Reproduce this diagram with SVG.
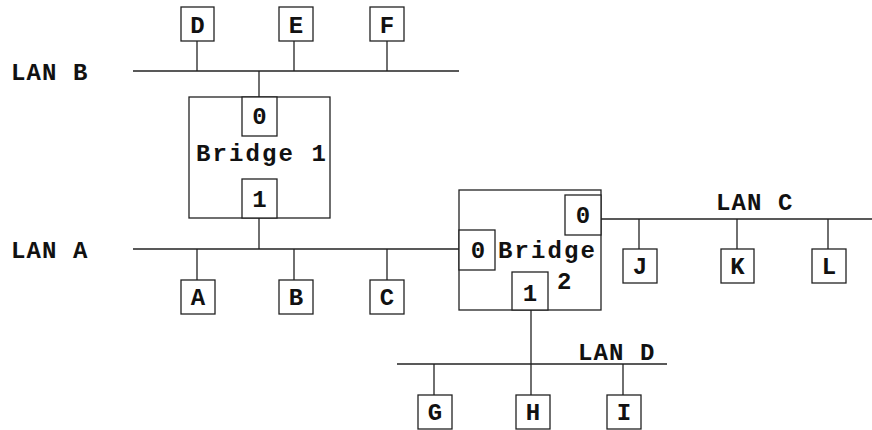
<svg xmlns="http://www.w3.org/2000/svg" width="872" height="430" viewBox="0 0 872 430">
<style>
  rect { fill: #fff; stroke: #222; stroke-width: 1.3; }
  line { stroke: #222; stroke-width: 1.3; }
  text { font-family: "Liberation Mono", "DejaVu Sans Mono", monospace; font-weight: bold; font-size: 24px; fill: #111; }
  .c { text-anchor: middle; font-size: 24px; }
  .lan { letter-spacing: 1.1px; }
  .br { letter-spacing: 2.1px; }
</style>
<rect x="0" y="0" width="872" height="430" style="fill:#fff;stroke:none"/>
<g id="connectors">
  <line x1="133" y1="71" x2="459" y2="71"/>
  <line x1="197" y1="41" x2="197" y2="71"/>
  <line x1="294" y1="41" x2="294" y2="71"/>
  <line x1="387" y1="41" x2="387" y2="71"/>
  <line x1="259" y1="71" x2="259" y2="97"/>
  <line x1="133" y1="249" x2="459" y2="249"/>
  <line x1="259" y1="218" x2="259" y2="249"/>
  <line x1="197" y1="249" x2="197" y2="280"/>
  <line x1="294" y1="249" x2="294" y2="280"/>
  <line x1="387" y1="249" x2="387" y2="280"/>
  <line x1="601" y1="219" x2="872" y2="219"/>
  <line x1="639" y1="219" x2="639" y2="249"/>
  <line x1="737" y1="219" x2="737" y2="249"/>
  <line x1="828" y1="219" x2="828" y2="249"/>
  <line x1="397" y1="364" x2="667" y2="364"/>
  <line x1="531" y1="310" x2="531" y2="395"/>
  <line x1="434" y1="364" x2="434" y2="395"/>
  <line x1="623" y1="364" x2="623" y2="395"/>
</g>
<g id="labels">
  <text class="lan" x="11" y="80">LAN B</text>
  <text class="lan" x="11" y="258">LAN A</text>
  <text class="lan" x="716" y="210">LAN C</text>
  <text class="lan" x="578" y="360">LAN D</text>
</g>
<g id="bridge1">
  <rect x="189" y="97" width="141" height="121"/>
  <rect x="242" y="97" width="35" height="39"/>
  <text class="c" x="259.5" y="124">0</text>
  <text class="br" x="196" y="161">Bridge 1</text>
  <rect x="242" y="179" width="35" height="39"/>
  <text class="c" x="259.5" y="207">1</text>
</g>
<g id="bridge2">
  <rect x="459" y="190" width="142" height="120"/>
  <rect x="565" y="195" width="36" height="40"/>
  <text class="c" x="583" y="223">0</text>
  <rect x="459" y="230" width="36" height="40"/>
  <text class="c" x="478" y="258">0</text>
  <text class="br" x="498" y="258">Bridge</text>
  <text x="557" y="289">2</text>
  <rect x="512" y="272" width="36" height="38"/>
  <text class="c" x="530" y="301">1</text>
</g>
<g id="D"><rect x="181" y="7" width="33" height="34"/><text class="c" x="197.5" y="33">D</text></g>
<g id="E"><rect x="279" y="7" width="34" height="34"/><text class="c" x="296" y="33">E</text></g>
<g id="F"><rect x="370" y="7" width="34" height="34"/><text class="c" x="387" y="33">F</text></g>
<g id="A"><rect x="181" y="280" width="34" height="34"/><text class="c" x="198" y="305">A</text></g>
<g id="B"><rect x="279" y="280" width="34" height="34"/><text class="c" x="296" y="305">B</text></g>
<g id="C"><rect x="370" y="280" width="34" height="34"/><text class="c" x="387" y="305">C</text></g>
<g id="J"><rect x="623" y="249" width="34" height="34"/><text class="c" x="640" y="274">J</text></g>
<g id="K"><rect x="721" y="249" width="33" height="34"/><text class="c" x="737.5" y="274">K</text></g>
<g id="L"><rect x="812" y="249" width="34" height="34"/><text class="c" x="829" y="274">L</text></g>
<g id="G"><rect x="418" y="395" width="34" height="34"/><text class="c" x="435" y="420">G</text></g>
<g id="H"><rect x="516" y="395" width="34" height="34"/><text class="c" x="533" y="420">H</text></g>
<g id="I"><rect x="607" y="395" width="34" height="34"/><text class="c" x="624" y="420">I</text></g>
</svg>
